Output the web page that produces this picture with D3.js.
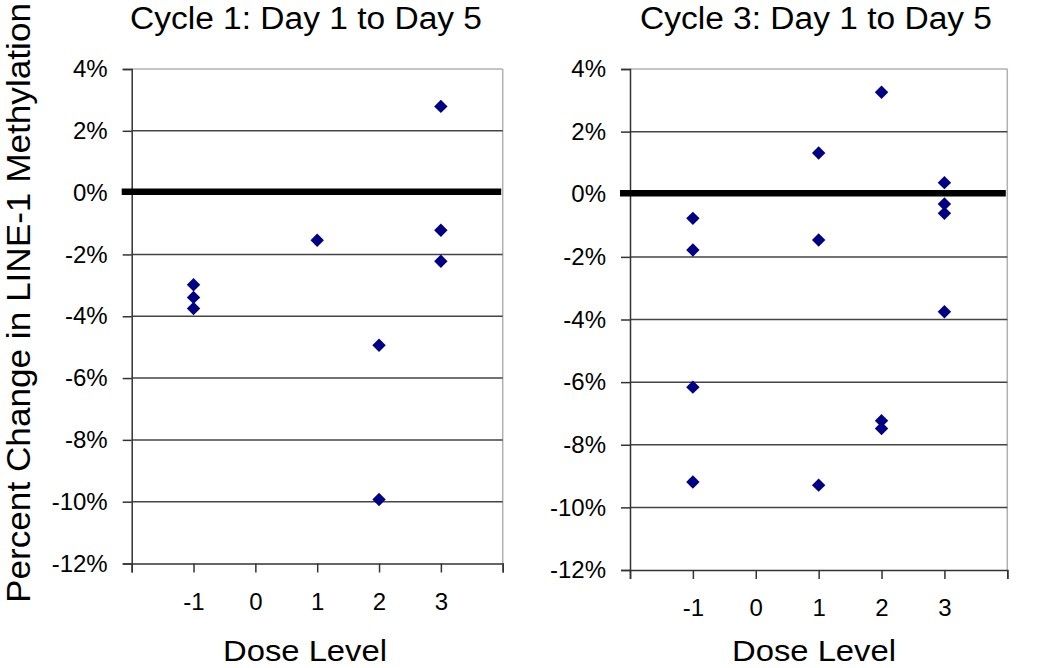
<!DOCTYPE html>
<html><head><meta charset="utf-8">
<script src="https://cdn.jsdelivr.net/npm/d3@7"></script>
<style>
body{margin:0;background:#fff;}
svg text{font-family:Arial,"Liberation Sans",sans-serif;fill:#000;}
</style></head>
<body><svg id="c" width="1050" height="668"></svg>
<script>
const titles = ["Cycle 1: Day 1 to Day 5", "Cycle 3: Day 1 to Day 5"];
const yAxisTitle = "Percent Change in LINE-1 Methylation";
const xAxisTitle = "Dose Level";
const xTicks = [-2, -1, 0, 1, 2, 3, 4];
const xTickLabels = ["", "-1", "0", "1", "2", "3", ""];
const yTicks = [4, 2, 0, -2, -4, -6, -8, -10, -12];
const cycle1Dose = [-1, -1, -1, 1, 2, 2, 3, 3, 3];
const cycle1Change = [-2.98, -3.39, -3.75, -1.54, -4.94, -9.93, 2.79, -1.22, -2.22];
const cycle3Dose = [-1, -1, -1, -1, 1, 1, 1, 2, 2, 2, 3, 3, 3, 3];
const cycle3Change = [-0.77, -1.78, -6.16, -9.19, 1.32, -1.46, -9.29, 3.26, -7.23, -7.48, 0.37, -0.31, -0.61, -3.75];

const svg = d3.select("#c");
const panels = [
  {title: titles[0], dose: cycle1Dose, change: cycle1Change, x0: 131.7, x1: 502.7, y0: 69, y1: 563.5, tx: 306, lx: 305},
  {title: titles[1], dose: cycle3Dose, change: cycle3Change, x0: 630, x1: 1007.3, y0: 69, y1: 570, tx: 816, lx: 814}
];

panels.forEach(p => {
  const x = d3.scaleLinear().domain([-2, 4]).range([p.x0, p.x1]);
  const y = d3.scaleLinear().domain([4, -12]).range([p.y0, p.y1]);
  const g = svg.append("g");

  // border top & right (light grey)
  g.append("line").attr("x1", p.x0).attr("x2", p.x1).attr("y1", y(4)).attr("y2", y(4))
    .attr("stroke", "#b0b0b0").attr("stroke-width", 1.5);
  g.append("line").attr("x1", p.x1).attr("x2", p.x1).attr("y1", y(4)).attr("y2", y(-12))
    .attr("stroke", "#b0b0b0").attr("stroke-width", 1.5);

  // gridlines
  g.selectAll("line.grid").data(yTicks.filter(v => v !== 4 && v !== -12 && v !== 0)).enter()
    .append("line").attr("class", "grid")
    .attr("x1", p.x0).attr("x2", p.x1)
    .attr("y1", d => y(d)).attr("y2", d => y(d))
    .attr("stroke", "#444").attr("stroke-width", 1.5);

  // y axis
  const ya = g.append("g").attr("transform", `translate(${p.x0},0)`)
    .call(d3.axisLeft(y).tickValues(yTicks).tickFormat(d => d + "%").tickSize(9).tickPadding(15));
  ya.select(".domain").attr("stroke", "#333").attr("stroke-width", 1.5);
  ya.selectAll(".tick line").attr("stroke", "#333").attr("stroke-width", 1.5);
  ya.selectAll(".tick text").attr("font-size", 24).attr("fill", "#000")
    .attr("font-family", "Arial, 'Liberation Sans', sans-serif");

  // x axis
  const xa = g.append("g").attr("transform", `translate(0,${p.y1})`)
    .call(d3.axisBottom(x).tickValues(xTicks).tickFormat((d, i) => xTickLabels[i]).tickSize(9).tickPadding(20));
  xa.select(".domain").attr("stroke", "#333").attr("stroke-width", 1.5);
  xa.selectAll(".tick line").attr("stroke", "#333").attr("stroke-width", 1.5);
  xa.selectAll(".tick text").attr("font-size", 24).attr("fill", "#000")
    .attr("font-family", "Arial, 'Liberation Sans', sans-serif");

  // zero reference line
  g.append("line").attr("x1", p.x0 - 10).attr("x2", p.x1 - 1.5)
    .attr("y1", y(0) - 1).attr("y2", y(0) - 1)
    .attr("stroke", "#000").attr("stroke-width", 6.5);

  // points
  const sym = d3.symbol().type(d3.symbolSquare).size(90);
  g.selectAll("path.pt").data(p.dose.map((d, i) => [d, p.change[i]])).enter()
    .append("path").attr("class", "pt")
    .attr("d", sym)
    .attr("transform", d => `translate(${x(d[0])},${y(d[1])}) rotate(45)`)
    .attr("fill", "#000080");

  // title
  g.append("text").attr("x", p.tx).attr("y", 28.5)
    .attr("text-anchor", "middle").attr("font-size", 31)
    .attr("textLength", 352).attr("lengthAdjust", "spacingAndGlyphs")
    .text(p.title);

  // x title
  g.append("text").attr("x", p.lx).attr("y", 661)
    .attr("text-anchor", "middle").attr("font-size", 30)
    .attr("textLength", 164).attr("lengthAdjust", "spacingAndGlyphs")
    .text(xAxisTitle);
});

svg.append("text").attr("transform", "translate(30,303) rotate(-90)")
  .attr("text-anchor", "middle").attr("font-size", 33)
  .attr("textLength", 600).attr("lengthAdjust", "spacingAndGlyphs")
  .text(yAxisTitle);
</script></body></html>
